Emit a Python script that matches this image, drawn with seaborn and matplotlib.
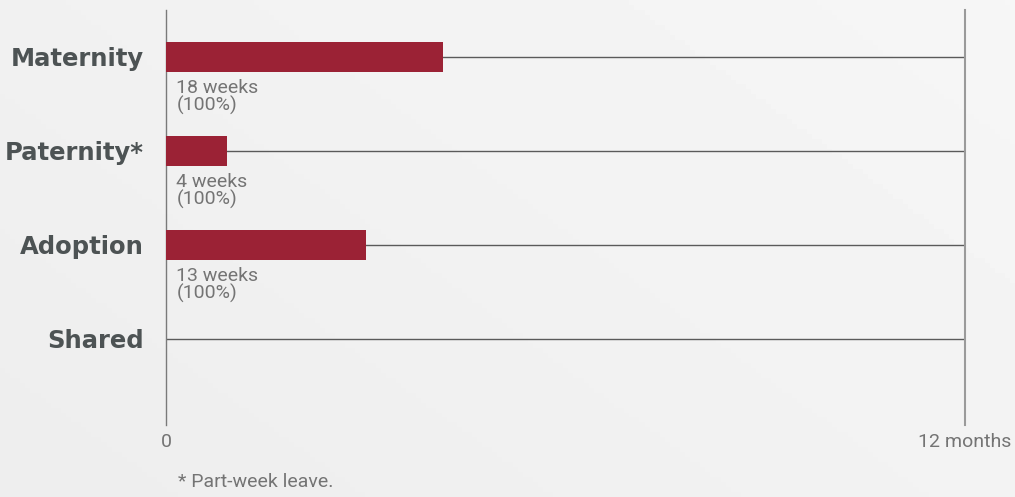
import matplotlib
matplotlib.use("Agg")
import matplotlib.pyplot as plt
import seaborn as sns
import numpy as np
import pandas as pd

# data
categories = ["Maternity", "Paternity*", "Adoption", "Shared"]
weeks = [18, 4, 13, 0]
bar_labels = ["18 weeks\n(100%)", "4 weeks\n(100%)", "13 weeks\n(100%)", ""]
max_weeks = 52  # 12 months
tick_labels = ["0", "12 months"]
footnote = "* Part-week leave."

bar_color = "#9b2235"
label_color = "#4d5354"
text_color = "#747474"
line_color = "#5a5a5a"

sns.set_style("white")
plt.rcParams["font.family"] = ["Roboto", "DejaVu Sans"]

fig = plt.figure(figsize=(10.15, 4.97), dpi=100)

# soft grey background
bg = fig.add_axes([0, 0, 1, 1], zorder=-10)
gx, gy = np.meshgrid(np.linspace(0, 1, 200), np.linspace(0, 1, 100))
grad = 0.93 + 0.035 * (gx * 0.6 + (1 - gy) * 0.4)
bg.imshow(grad, cmap="gray", vmin=0, vmax=1, aspect="auto", extent=[0, 1, 0, 1])
bg.axis("off")

ax = fig.add_axes([166 / 1015, 1 - 425 / 497, (965 - 166) / 1015, (425 - 10) / 497])
ax.patch.set_alpha(0)

df = pd.DataFrame({"category": categories, "weeks": weeks})
sns.barplot(data=df, x="weeks", y="category", orient="h", color=bar_color,
            width=0.32, saturation=1, linewidth=0, ax=ax, zorder=3)

# row lines
ax.hlines(range(len(categories)), 0, max_weeks, color=line_color, linewidth=1, zorder=2)

for i, lab in enumerate(bar_labels):
    if lab:
        ax.annotate(lab, xy=(0, i + 0.16), xytext=(7.5, -5), textcoords="offset points",
                    ha="left", va="top", fontsize=14, color=text_color, linespacing=0.9)

ax.set_xlim(0, max_weeks)
ax.set_ylim(3.915, -0.5)
ax.set_xticks([0, max_weeks])
ax.set_xticklabels(tick_labels, fontsize=14, color=text_color)
ax.tick_params(axis="x", length=0, pad=6)
ax.tick_params(axis="y", length=0, pad=16)
for t in ax.get_yticklabels():
    t.set_family(["DejaVu Sans"])
    t.set_fontsize(17.5)
    t.set_fontweight("bold")
    t.set_color(label_color)
ax.set_xlabel("")
ax.set_ylabel("")

for side in ["top", "bottom"]:
    ax.spines[side].set_visible(False)
ax.spines["left"].set_color("#7a7a7a")
ax.spines["right"].set_color("#9a9a9a")
ax.spines["left"].set_linewidth(1)
ax.spines["right"].set_linewidth(1.5)

fig.text(178 / 1015, 1 - 482 / 497, footnote, fontsize=14, color=text_color,
         ha="left", va="center")

fig.savefig("out.png", dpi=100)
